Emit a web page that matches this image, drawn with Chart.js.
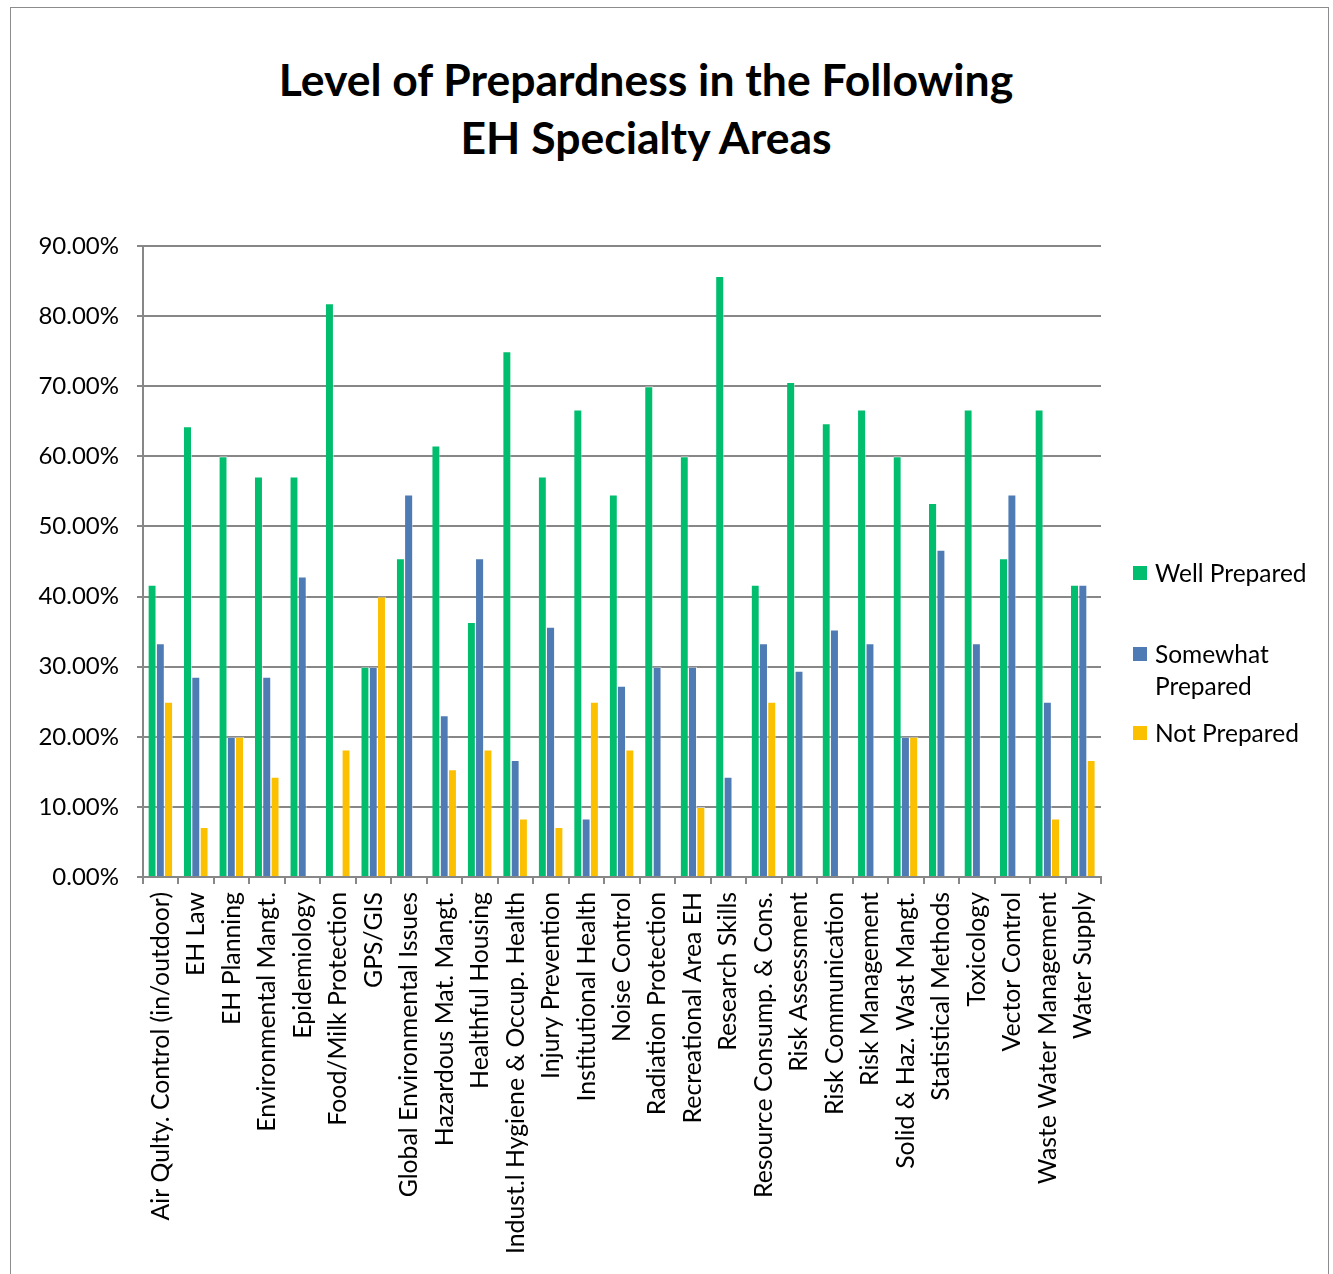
<!DOCTYPE html>
<html>
<head>
<meta charset="utf-8">
<script src="https://cdn.jsdelivr.net/npm/chart.js@4.4.1/dist/chart.umd.min.js"></script>
<style>
  html, body { margin: 0; padding: 0; background: #fff; }
  #wrap { position: relative; width: 1333px; height: 1274px; overflow: hidden; }
  #frame { position: absolute; left: 10px; top: 7px; width: 1319px; height: 1280px; border: 1.5px solid #8c8c8c; box-sizing: border-box; }
  #title { position: absolute; left: 196px; width: 900px; top: 50px; text-align: center;
           font-family: Lato, sans-serif; font-weight: bold; font-size: 44.5px; line-height: 58px; color: #000; }
  canvas { position: absolute; left: 0; top: 0; }
  .lg { position: absolute; left: 1133px; font-family: Lato, sans-serif; font-size: 24.5px; line-height: 32px; color: #000; }
  .lg i { position: absolute; left: 0; top: 9px; width: 14px; height: 14px; }
  .lg span { display: block; margin-left: 22px; }
</style>
</head>
<body>
<div id="wrap">
  <div id="frame"></div>
  <div id="title">Level of Prepardness in the Following<br>EH Specialty Areas</div>
  <canvas id="c" width="1333" height="1274"></canvas>
  <div id="legend"></div>
</div>
<script>
// Specialty areas and the share of respondents (percent) at each level
const categories = [
  "Air Qulty. Control (in/outdoor)", "EH Law", "EH Planning", "Environmental Mangt.",
  "Epidemiology", "Food/Milk Protection", "GPS/GIS", "Global Environmental Issues",
  "Hazardous Mat. Mangt.", "Healthful Housing", "Indust.l Hygiene & Occup. Health",
  "Injury Prevention", "Institutional Health", "Noise Control", "Radiation Protection",
  "Recreational Area EH", "Research Skills", "Resource Consump. & Cons.", "Risk Assessment",
  "Risk Communication", "Risk Management", "Solid & Haz. Wast Mangt.", "Statistical Methods",
  "Toxicology", "Vector Control", "Waste Water Management", "Water Supply"
];
const wellPrepared = [41.67, 64.29, 60, 57.14, 57.14, 81.82, 30, 45.45, 61.54, 36.36, 75,
  57.14, 66.67, 54.55, 70, 60, 85.71, 41.67, 70.59, 64.71, 66.67, 60, 53.33, 66.67, 45.45, 66.67, 41.67];
const somewhatPrepared = [33.33, 28.57, 20, 28.57, 42.86, 0, 30, 54.55, 23.08, 45.45, 16.67,
  35.71, 8.33, 27.27, 30, 30, 14.29, 33.33, 29.41, 35.29, 33.33, 20, 46.67, 33.33, 54.55, 25, 41.67];
const notPrepared = [25, 7.14, 20, 14.29, 0, 18.18, 40, 0, 15.38, 18.18, 8.33,
  7.14, 25, 18.18, 0, 10, 0, 25, 0, 0, 0, 20, 0, 0, 0, 8.33, 16.67];
const yTicks = [0, 10, 20, 30, 40, 50, 60, 70, 80, 90];

const seriesNames = ["Well Prepared", ["Somewhat", "Prepared"], "Not Prepared"];
const seriesColors = ["#00BE6E", "#4F7BB5", "#FBC000"];
const legendTops = [557, 638, 717];

const gridColor = "#878787";
const xFont = { family: "Lato, sans-serif", size: 24.8 };
const yFont = { family: "Lato, sans-serif", size: 24 };

const datasets = [wellPrepared, somewhatPrepared, notPrepared].map((d, i) => ({
  label: Array.isArray(seriesNames[i]) ? seriesNames[i].join(" ") : seriesNames[i],
  data: d,
  backgroundColor: seriesColors[i],
  borderColor: "rgba(255,255,255,0.55)",
  borderWidth: { left: 0, right: 1, top: 1, bottom: 0 },
  categoryPercentage: 0.7,
  barPercentage: 0.98
}));

new Chart(document.getElementById("c"), {
  type: "bar",
  data: { labels: categories, datasets },
  options: {
    responsive: false,
    animation: false,
    layout: { padding: { left: 20, right: 232, top: 246, bottom: 0 } },
    plugins: { legend: { display: false }, title: { display: false }, tooltip: { enabled: false } },
    scales: {
      x: {
        grid: { drawOnChartArea: false, drawTicks: true, tickLength: 7, offset: true, color: gridColor, lineWidth: 2 },
        border: { color: gridColor, width: 2 },
        ticks: { color: "#000", font: xFont, minRotation: 90, maxRotation: 90, autoSkip: false, padding: 8 },
        afterFit: s => { s.height = 397; }
      },
      y: {
        min: 0, max: 90,
        afterBuildTicks: s => { s.ticks = yTicks.map(v => ({ value: v })); },
        grid: { color: gridColor, lineWidth: 2, drawTicks: true, tickLength: 6 },
        border: { color: gridColor, width: 2 },
        ticks: { color: "#000", font: yFont, padding: 18, callback: v => v.toFixed(2) + "%" },
        afterFit: s => { s.width = 123; }
      }
    }
  }
});

// Legend with wrapped series names
const lg = document.getElementById("legend");
seriesNames.forEach((name, i) => {
  const el = document.createElement("div");
  el.className = "lg";
  el.style.top = legendTops[i] + "px";
  const sw = document.createElement("i");
  sw.style.background = seriesColors[i];
  el.appendChild(sw);
  const lines = Array.isArray(name) ? name : [name];
  lines.forEach(t => { const s = document.createElement("span"); s.textContent = t; el.appendChild(s); });
  lg.appendChild(el);
});
</script>
</body>
</html>
